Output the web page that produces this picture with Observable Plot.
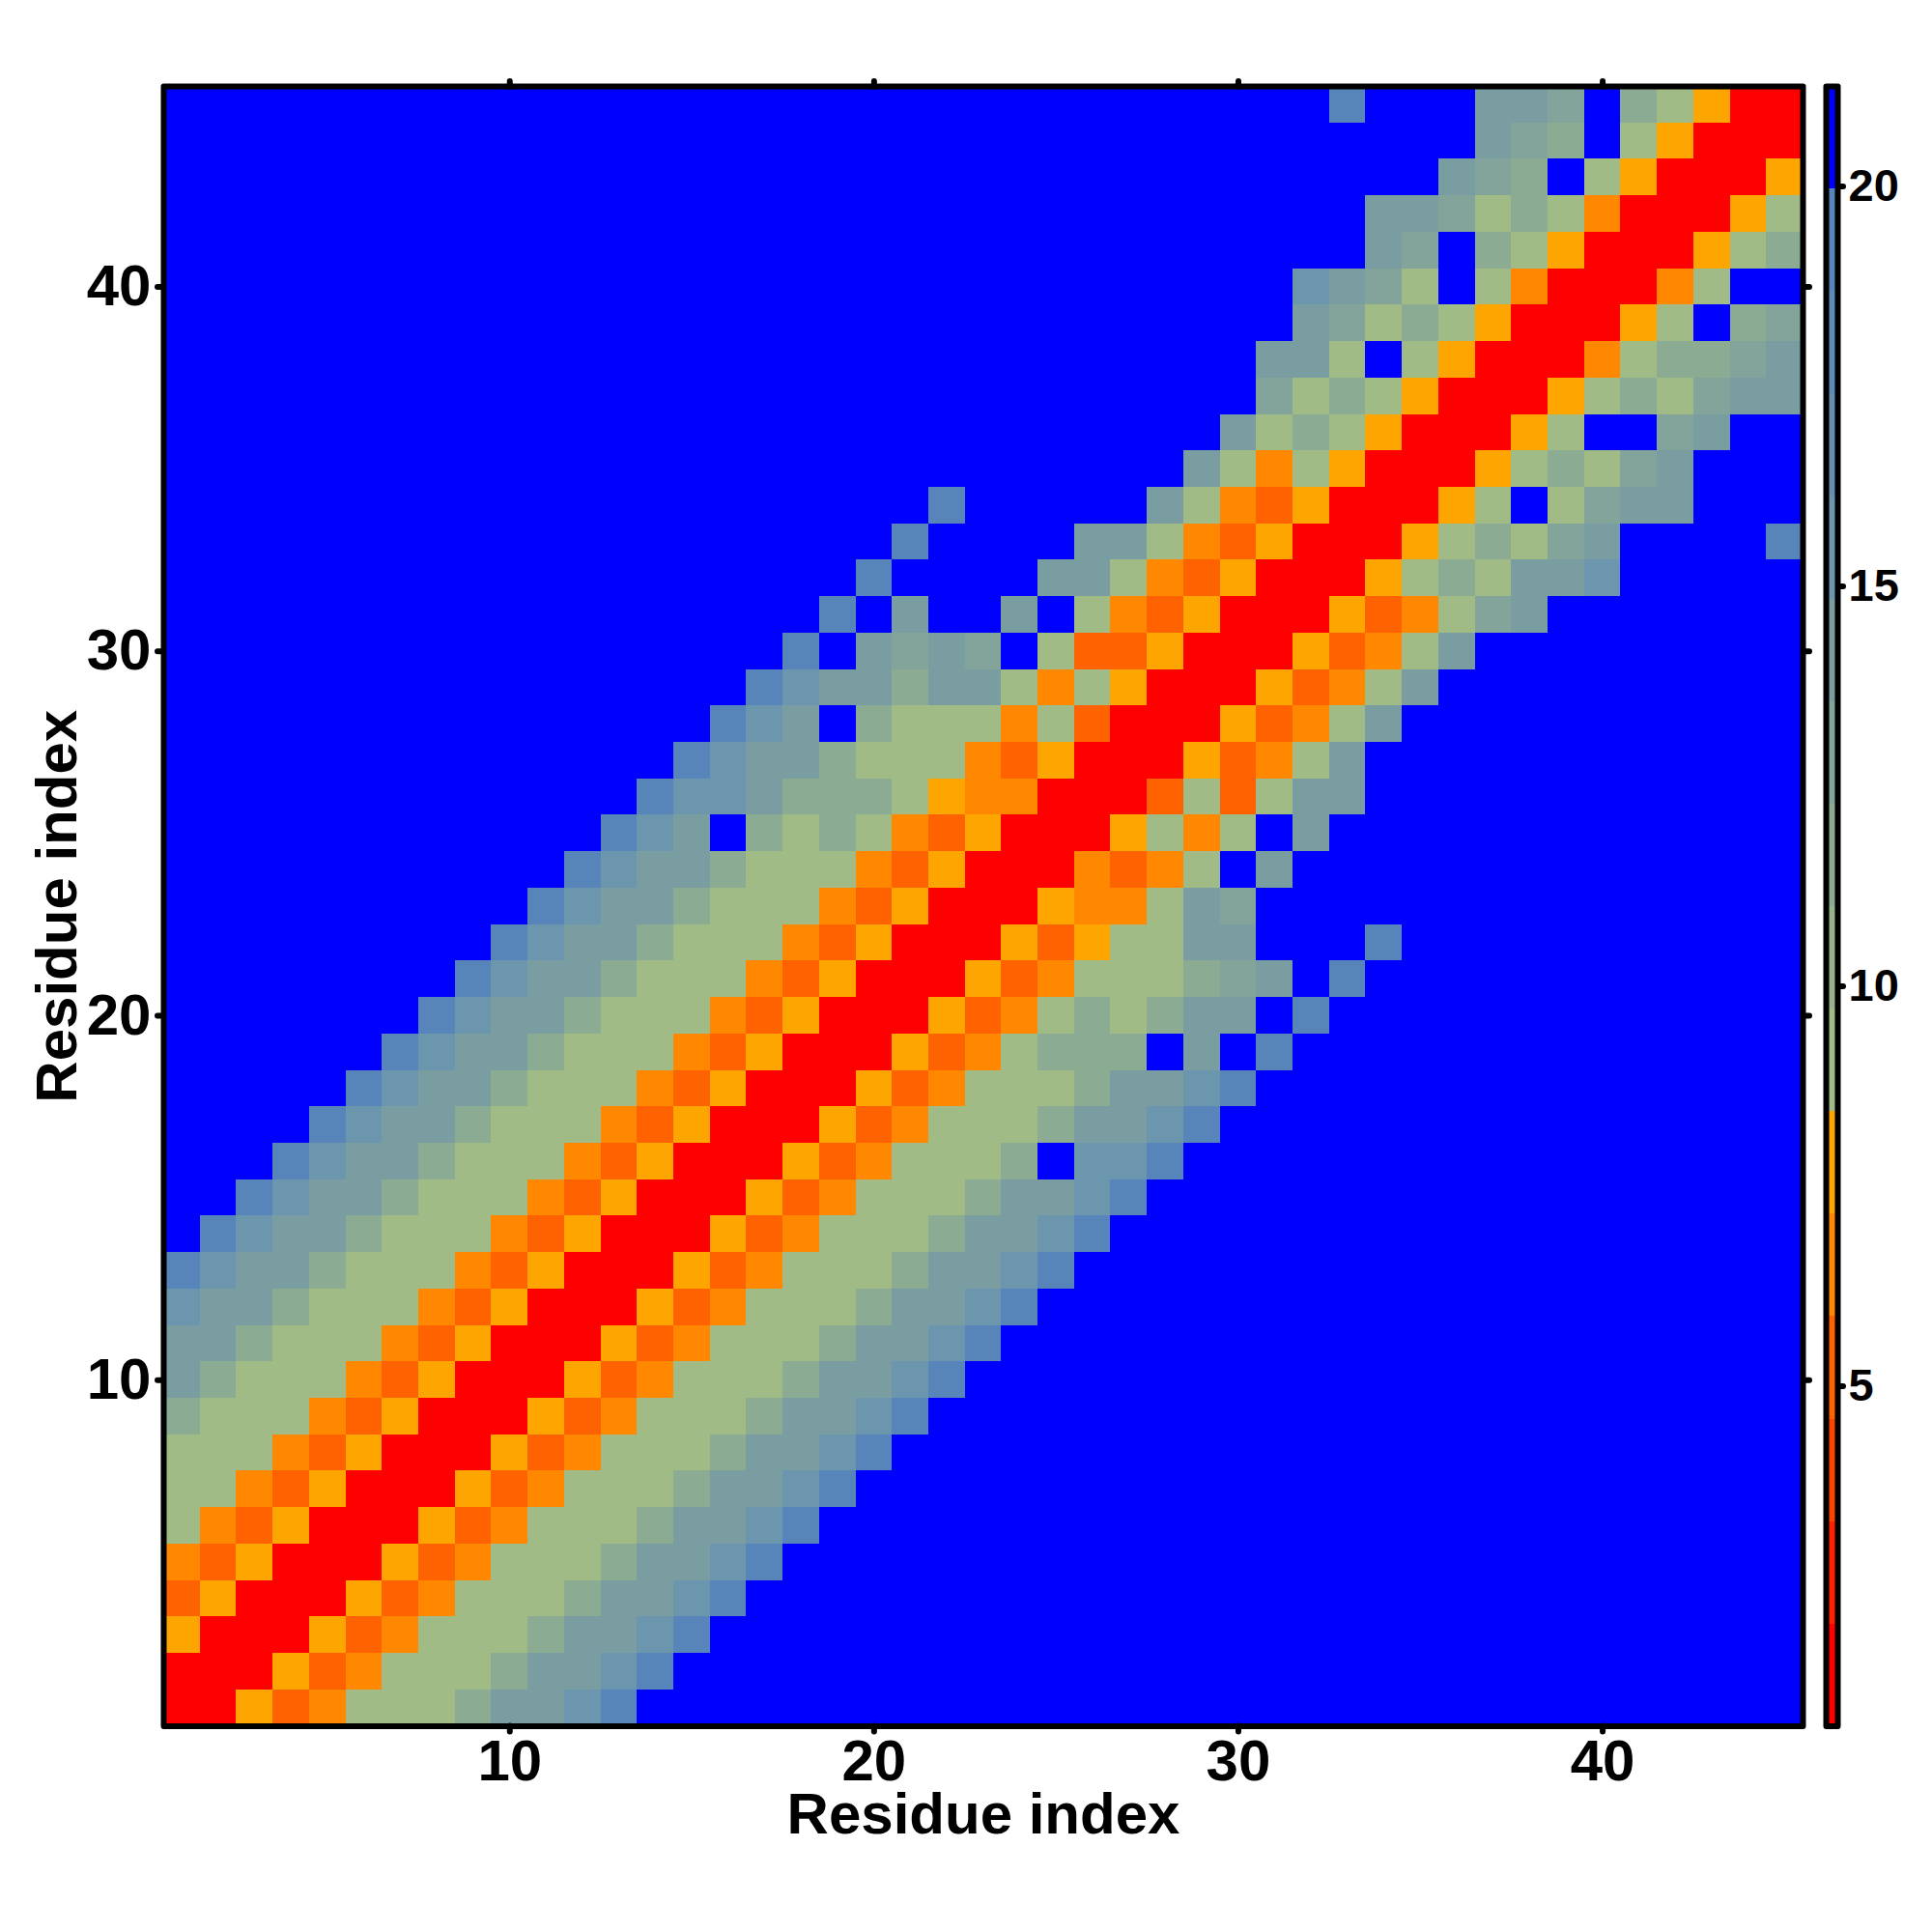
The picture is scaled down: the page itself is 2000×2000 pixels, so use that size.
<!DOCTYPE html>
<html>
<head>
<meta charset="utf-8">
<style>
html,body{margin:0;padding:0;background:#fff;}
#stage{position:relative;width:2000px;height:2000px;overflow:hidden;}
#stage svg{position:absolute;left:0;top:0;background:transparent;}
</style>
<script src="https://cdn.jsdelivr.net/npm/d3@7"></script>
<script src="https://cdn.jsdelivr.net/npm/@observablehq/plot@0.6"></script>
</head>
<body>
<div id="stage"></div>
<script>
// Symmetric residue distance map. Each entry holds the right-hand end of row r (columns up to r = diagonal);
// missing columns to the left are "X". Symbols name the colour band the cell falls in.
const rowsLowerTriangle = [
  "R","RR","6RR","46RR","546RR","A546RR","AA546RR","AAA546RR","bAAA546RR","dbAAA546RR",
  "ddbAAA546RR","eddbAAA546RR","feddbAAA546RR","feddbAAA546RR","feddbAAA546RR","feddbAAA546RR",
  "feddbAAA546RR","feddbAAA546RR","feddbAAA546RR","feddbAAA546RR","feddbAAA546RR","feddbAAA546RR",
  "feddbAAA546RR","feddbAAA546RR",
  "fedXbAbA546RR",
  "feedbbbA655RR",
  "feddbAAA546RR",
  "fedXbAAA5A4RR",
  "feddbddA5A6RR",
  "fXdcdcXA446RR",
  "fXdXXdXA546RR",
  "fXXXXddA546RR",
  "fXXXXddA546RR",
  "fXXXXXdA546RR",
  "dA5A6RR",
  "dAbA6RR",
  "cAbA6RR",
  "ddAXA6RR",
  "dcAbA6RR",
  "edcAXA5RR",
  "dcXbA6RR",
  "ddcAbA5RR",
  "dcbXA6RR",
  "dcbXA6RR",
  "fXXXddcXbA6RR"
];
const symbolValues = {R:1.4, "4":5.3, "5":6.5, "6":7.8, A:9.1, b:11.6, c:12.9, d:14.2, e:15.5, f:19.3, X:20.6};
const thresholds = [2.03,3.31,4.59,5.88,7.16,8.44,9.72,11,12.28,13.56,14.84,16.13,17.41,18.69,19.97];
const bandColors = ["#ff0000","#ff2200","#ff4400","#ff6200","#ff8800","#ffa500",
  "#a0bb85","#96b38c","#8bab93","#82a49a","#7a9da1","#6c96ad","#658eb1","#5e8ab5","#5785ba","#0000ff"];
const domainEnds = [0.75, 21.25];
const xTicks = [10,20,30,40];
const barTicks = [5,10,15,20];
const axisTitle = "Residue index";
const n = 45;

const full = rowsLowerTriangle.map((s, i) => s.padStart(i + 1, "X"));
const cells = [];
for (let r = 1; r <= n; r++) for (let c = 1; c <= n; c++) {
  const sym = c <= r ? full[r-1][c-1] : full[c-1][r-1];
  cells.push({c, r, v: symbolValues[sym]});
}
const colorOpt = {type:"threshold", domain:thresholds, range:bandColors};
const font = "'Liberation Sans', Arial, sans-serif";
const common = {color:colorOpt, width:2000, height:2000, marginTop:89, marginBottom:213.5};
const tickStyle = {stroke:"black", strokeWidth:6, strokeLinecap:"round"};

const main = Plot.plot({
  ...common,
  marginLeft:169, marginRight:134,
  style:{font:`bold 60px ${font}`, background:"transparent"},
  x:{type:"linear", domain:[0.5,45.5]},
  y:{type:"linear", domain:[0.5,45.5]},
  marks:[
    Plot.rect(cells,{x1:d=>d.c-0.5,x2:d=>d.c+0.5,y1:d=>d.r-0.5,y2:d=>d.r+0.5,fill:"v",shapeRendering:"crispEdges"}),
    Plot.frame({stroke:"black",strokeWidth:6,strokeLinejoin:"round"}),
    Plot.axisX(xTicks,{anchor:"bottom",tickSize:6,tickPadding:7,label:axisTitle,labelAnchor:"center",labelArrow:"none",labelOffset:111,...tickStyle}),
    Plot.axisX(xTicks,{anchor:"top",tickSize:6,tickFormat:()=>"",label:null,...tickStyle}),
    Plot.axisY(xTicks,{anchor:"left",tickSize:6,tickPadding:7,label:axisTitle,labelAnchor:"center",labelArrow:"none",labelOffset:133,...tickStyle}),
    Plot.axisY(xTicks,{anchor:"right",tickSize:6,tickFormat:()=>"",label:null,...tickStyle})
  ]
});

const edges = [domainEnds[0], ...thresholds, domainEnds[1]];
const bands = bandColors.map((_, i) => ({lo:edges[i], hi:edges[i+1], v:(edges[i]+edges[i+1])/2}));
const bar = Plot.plot({
  ...common,
  marginLeft:1890, marginRight:98,
  style:{font:`bold 47px ${font}`, background:"transparent"},
  x:{domain:[0,1], axis:null},
  y:{type:"linear", domain:domainEnds},
  marks:[
    Plot.rect(bands,{x1:0,x2:1,y1:"lo",y2:"hi",fill:"v",shapeRendering:"crispEdges"}),
    Plot.frame({stroke:"black",strokeWidth:6,strokeLinejoin:"round"}),
    Plot.axisY(barTicks,{anchor:"right",tickSize:5,tickPadding:6,tickFormat:"d",label:null,...tickStyle})
  ]
});
const stage = document.getElementById("stage");
stage.append(main, bar);
</script>
</body>
</html>
